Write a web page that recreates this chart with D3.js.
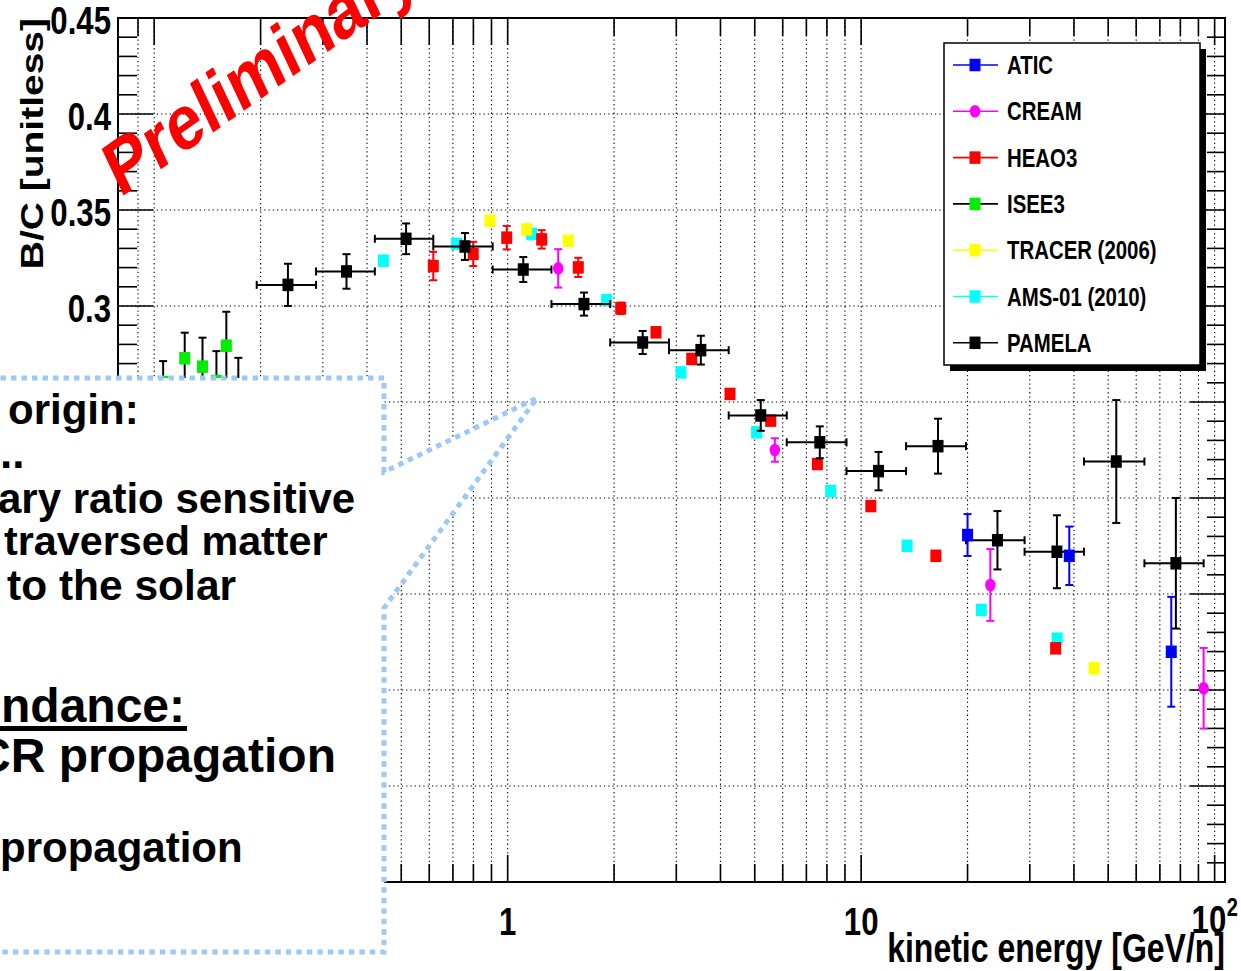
<!DOCTYPE html>
<html>
<head>
<meta charset="utf-8">
<script src="https://cdn.jsdelivr.net/npm/d3@7"></script>
<style>
  body { margin: 0; background: #fff; }
  svg { display: block; }
  text { font-family: "Liberation Sans", Arial, Helvetica, sans-serif; font-weight: bold; }
</style>
</head>
<body>
<svg id="chart" width="1241" height="971"></svg>
<script>
// ---------------- B/C ratio measurements ----------------
// PAMELA: bin centres, ratio, stat. error, bin edges
const pamelaE   = [0.239, 0.350, 0.516, 0.757, 1.107, 1.644, 2.41, 3.52, 5.20, 7.64, 11.2, 16.5, 24.3, 35.8, 52.7, 77.7];
const pamelaV   = [0.311, 0.318, 0.335, 0.331, 0.319, 0.301, 0.281, 0.277, 0.243, 0.229, 0.214, 0.227, 0.178, 0.172, 0.219, 0.166];
const pamelaErr = [0.011, 0.009, 0.008, 0.007, 0.0065, 0.006, 0.006, 0.0075, 0.008, 0.0083, 0.010, 0.0143, 0.0152, 0.019, 0.032, 0.034];
const pamelaBins = [0.195, 0.287, 0.421, 0.616, 0.907, 1.33, 1.95, 2.86, 4.22, 6.16, 9.09, 13.4, 19.8, 29.0, 42.7, 63.3, 93.1];

const heaoE   = [0.616, 0.799, 0.994, 1.248, 1.584, 2.088, 2.628, 3.317, 4.256, 5.549, 7.52, 10.65, 16.27, 35.5];
const heaoV   = [0.3208, 0.3271, 0.3356, 0.3347, 0.3201, 0.2988, 0.2863, 0.2724, 0.2542, 0.2403, 0.2177, 0.1958, 0.1699, 0.1217];
const heaoErr = [0.0074, 0.0063, 0.0061, 0.0048, 0.005, 0.003, 0, 0, 0, 0, 0, 0, 0, 0];

const amsE = [0.445, 0.717, 1.169, 1.906, 3.093, 5.062, 8.20, 13.49, 21.88, 35.84];
const amsV = [0.3236, 0.3323, 0.3375, 0.3031, 0.2654, 0.2342, 0.2036, 0.1751, 0.1417, 0.1267];

const tracerE = [0.891, 1.132, 1.484, 45.6];
const tracerV = [0.3444, 0.3399, 0.3340, 0.1113];

const creamE   = [1.39, 5.70, 23.2, 93.1];
const creamV   = [0.3196, 0.2250, 0.1547, 0.1009];
const creamErr = [0.010, 0.0061, 0.0187, 0.021];

const aticE   = [20.0, 38.8, 75.4];
const aticV   = [0.1807, 0.1699, 0.1199];
const aticErr = [0.0109, 0.0152, 0.0286];

const iseeE   = [0.106, 0.122, 0.137, 0.150, 0.160, 0.173];
const iseeV   = [0.2604, 0.2728, 0.2684, 0.2609, 0.2793, 0.2583];
const iseeErr = [0.0109, 0.0133, 0.0151, 0.0156, 0.0177, 0.0147];

const legendNames = ["ATIC", "CREAM", "HEAO3", "ISEE3", "TRACER (2006)", "AMS-01 (2010)", "PAMELA"];
const yTickLabels = ["0.3", "0.35", "0.4", "0.45"];
const yLabelValues = [0.3, 0.35, 0.4, 0.45];
const yGridValues = [0.05, 0.1, 0.15, 0.2, 0.25, 0.3, 0.35, 0.4];

// ---------------- layout ----------------
const svg = d3.select("#chart");
const L = 118, R = 1225, T = 18, B = 882;
const x = d3.scaleLog().domain([0.079, 107]).range([L, R]);
const y = d3.scaleLinear().domain([0, 0.45]).range([B, T]);
const SX = 0.8; // horizontal squeeze of the chart lettering

const colors = {
  ATIC: "#0000ff", CREAM: "#ff00ff", HEAO3: "#ff0000", ISEE3: "#00ee00",
  TRACER: "#ffff00", AMS: "#00ffff", PAMELA: "#000000"
};

// ---------------- grid ----------------
const xTicks = x.ticks().filter(v => v > 0.085);
const yMinor = d3.range(0, 46).map(i => i / 100);
const isMajorY = v => Math.abs(v * 20 - Math.round(v * 20)) < 1e-6;
const isDecade = v => Math.abs(Math.log10(v) - Math.round(Math.log10(v))) < 1e-6;

const grid = svg.append("g").attr("stroke", "#000").attr("stroke-width", 1.1)
  .attr("stroke-dasharray", "1.3,3");
grid.selectAll("line.v").data(xTicks).join("line")
  .attr("x1", d => x(d)).attr("x2", d => x(d)).attr("y1", T).attr("y2", B);
grid.selectAll("line.h").data(yGridValues).join("line")
  .attr("class", "h").attr("x1", L).attr("x2", R).attr("y1", d => y(d)).attr("y2", d => y(d));

// ---------------- ticks ----------------
const ticks = svg.append("g").attr("stroke", "#000").attr("stroke-width", 1.6);
ticks.selectAll("line.xb").data(xTicks).join("line").attr("class", "xb")
  .attr("x1", d => x(d)).attr("x2", d => x(d))
  .attr("y1", B).attr("y2", d => B - (isDecade(d) ? 27 : 18));
ticks.selectAll("line.xt").data(xTicks).join("line").attr("class", "xt")
  .attr("x1", d => x(d)).attr("x2", d => x(d))
  .attr("y1", T).attr("y2", d => T + ((d >= 0.099 && d <= 1.01) || isDecade(d) ? 27 : 18));
ticks.selectAll("line.yl").data(yMinor).join("line").attr("class", "yl")
  .attr("x1", L).attr("x2", d => L + (isMajorY(d) ? 35 : 19))
  .attr("y1", d => y(d)).attr("y2", d => y(d));
ticks.selectAll("line.yr").data(yMinor).join("line").attr("class", "yr")
  .attr("x1", R).attr("x2", d => R - (isMajorY(d) ? 35 : 18))
  .attr("y1", d => y(d)).attr("y2", d => y(d));

// frame
svg.append("rect").attr("x", L).attr("y", T).attr("width", R - L).attr("height", B - T)
  .attr("fill", "none").attr("stroke", "#000").attr("stroke-width", 2);

// ---------------- axis labels ----------------
yLabelValues.forEach((v, i) => {
  svg.append("g").attr("transform", `translate(111,${y(v) + 16}) scale(${SX},1)`)
    .append("text").attr("text-anchor", "end").attr("font-size", 39).text(yTickLabels[i]);
});
[[1, "1"], [10, "10"]].forEach(([v, s]) => {
  svg.append("g").attr("transform", `translate(${x(v)},935) scale(${SX},1)`)
    .append("text").attr("text-anchor", "middle").attr("font-size", 39).text(s);
});
const lab100 = svg.append("g").attr("transform", `translate(${x(100) - 23},933) scale(${SX},1)`);
lab100.append("text").attr("font-size", 39).text("10");
lab100.append("text").attr("x", 44).attr("y", -17).attr("font-size", 25).text("2");

svg.append("g").attr("transform", `translate(${R},962) scale(${SX},1)`)
  .append("text").attr("text-anchor", "end").attr("font-size", 40).text("kinetic energy [GeV/n]");
svg.append("g").attr("transform", `translate(43,${T}) scale(${SX},1) rotate(-90)`)
  .append("text").attr("text-anchor", "end").attr("font-size", 39).text("B/C [unitless]");

// ---------------- data ----------------
const plot = svg.append("g");
const MW = 11, MH = 12.5, CAP = 4;

function yErrors(E, V, Err, color) {
  const g = plot.append("g").attr("stroke", color).attr("stroke-width", 2);
  E.forEach((e, i) => {
    if (!Err[i]) return;
    const cx = x(e), y1 = y(V[i] + Err[i]), y2 = y(V[i] - Err[i]);
    g.append("line").attr("x1", cx).attr("x2", cx).attr("y1", y1).attr("y2", y2);
    g.append("line").attr("x1", cx - CAP).attr("x2", cx + CAP).attr("y1", y1).attr("y2", y1);
    g.append("line").attr("x1", cx - CAP).attr("x2", cx + CAP).attr("y1", y2).attr("y2", y2);
  });
}
function squares(E, V, color) {
  plot.append("g").selectAll("rect").data(E.map((e, i) => [e, V[i]])).join("rect")
    .attr("x", d => x(d[0]) - MW / 2).attr("y", d => y(d[1]) - MH / 2)
    .attr("width", MW).attr("height", MH).attr("fill", color);
}

// ISEE3 (black error bars, green markers)
yErrors(iseeE, iseeV, iseeErr, "#000");
squares(iseeE, iseeV, colors.ISEE3);
// AMS-01
squares(amsE, amsV, colors.AMS);
// HEAO3
yErrors(heaoE, heaoV, heaoErr, colors.HEAO3);
squares(heaoE, heaoV, colors.HEAO3);
// TRACER
squares(tracerE, tracerV, colors.TRACER);
// PAMELA with energy bins
const pg = plot.append("g").attr("stroke", "#000").attr("stroke-width", 2);
pamelaE.forEach((e, i) => {
  const x1 = x(pamelaBins[i]), x2 = x(pamelaBins[i + 1]), cy = y(pamelaV[i]);
  pg.append("line").attr("x1", x1).attr("x2", x2).attr("y1", cy).attr("y2", cy);
  pg.append("line").attr("x1", x1).attr("x2", x1).attr("y1", cy - CAP).attr("y2", cy + CAP);
  pg.append("line").attr("x1", x2).attr("x2", x2).attr("y1", cy - CAP).attr("y2", cy + CAP);
});
yErrors(pamelaE, pamelaV, pamelaErr, "#000");
squares(pamelaE, pamelaV, colors.PAMELA);
// ATIC
yErrors(aticE, aticV, aticErr, colors.ATIC);
squares(aticE, aticV, colors.ATIC);
// CREAM
yErrors(creamE, creamV, creamErr, colors.CREAM);
plot.append("g").selectAll("ellipse").data(creamE.map((e, i) => [e, creamV[i]])).join("ellipse")
  .attr("cx", d => x(d[0])).attr("cy", d => y(d[1])).attr("rx", 5.2).attr("ry", 6.3)
  .attr("fill", colors.CREAM);

// ---------------- legend ----------------
const lg = svg.append("g");
lg.append("rect").attr("x", 950).attr("y", 49).attr("width", 256).attr("height", 322).attr("fill", "#000");
lg.append("rect").attr("x", 944).attr("y", 43).attr("width", 256).attr("height", 322)
  .attr("fill", "#fff").attr("stroke", "#000").attr("stroke-width", 1.5);
const legendColors = [colors.ATIC, colors.CREAM, colors.HEAO3, colors.ISEE3, colors.TRACER, colors.AMS, colors.PAMELA];
const legendLines = [colors.ATIC, colors.CREAM, colors.HEAO3, "#000", colors.TRACER, colors.AMS, "#000"];
legendNames.forEach((name, i) => {
  const cy = 65 + i * 46.3;
  lg.append("line").attr("x1", 953).attr("x2", 998).attr("y1", cy).attr("y2", cy)
    .attr("stroke", legendLines[i]).attr("stroke-width", 1.6);
  if (name === "CREAM") {
    lg.append("ellipse").attr("cx", 975).attr("cy", cy).attr("rx", 5.2).attr("ry", 6.3).attr("fill", legendColors[i]);
  } else {
    lg.append("rect").attr("x", 975 - MW / 2).attr("y", cy - MH / 2).attr("width", MW).attr("height", MH)
      .attr("fill", legendColors[i]);
  }
  lg.append("g").attr("transform", `translate(1007,${cy + 9}) scale(${SX},1)`)
    .append("text").attr("font-size", 25.5).text(name);
});

// ---------------- "Preliminary" stamp ----------------
svg.append("g").attr("transform", "translate(120,198) scale(0.82,1) rotate(-30)")
  .append("text").attr("font-size", 78).attr("fill", "#ff0000").text("Preliminary");

// ---------------- callout box ----------------
svg.append("path")
  .attr("d", "M-10,378 H384 V472 L537,398 L384,608 V952 H-10 Z")
  .attr("fill", "#fff").attr("stroke", "#9ec9f5").attr("stroke-width", 5)
  .attr("stroke-dasharray", "5.5,5");

const notes = [
  { t: "origin:", x: 8, y: 424, s: 42 },
  { t: "..", x: 0, y: 468, s: 44 },
  { t: "ary ratio sensitive", x: -2, y: 513, s: 42 },
  { t: "traversed matter", x: 4, y: 555, s: 41.3 },
  { t: "to the solar", x: 7, y: 600, s: 42.5 },
  { t: "ndance:", x: 1, y: 722, s: 48 },
  { t: "CR propagation", x: -24, y: 772, s: 48 },
  { t: "propagation", x: 0, y: 862, s: 42 }
];
const ng = svg.append("g");
notes.forEach(n => {
  ng.append("text").attr("x", n.x).attr("y", n.y).attr("font-size", n.s).attr("fill", "#000").text(n.t);
});
ng.append("rect").attr("x", 0).attr("y", 726).attr("width", 187).attr("height", 5).attr("fill", "#000");
</script>
</body>
</html>
